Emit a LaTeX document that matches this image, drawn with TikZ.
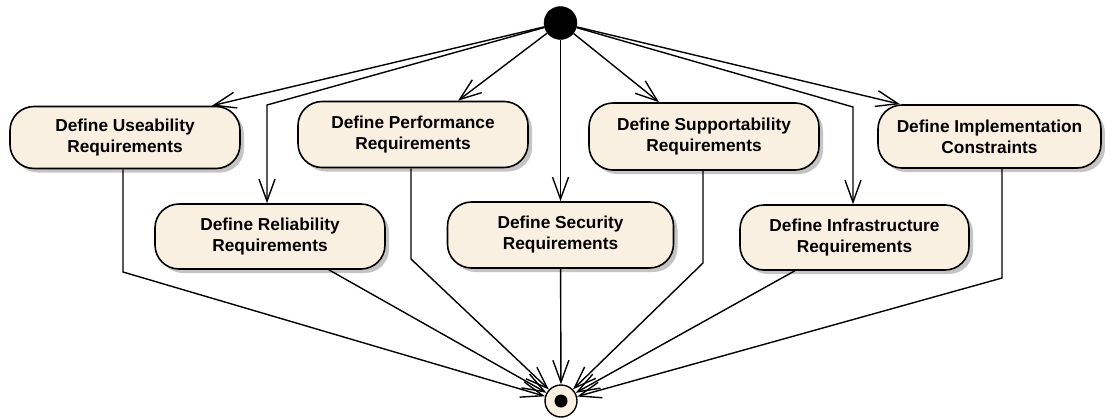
\documentclass[tikz,border=0pt]{standalone}
\usepackage{fontspec}
\setmainfont{Liberation Sans}
\usetikzlibrary{arrows.meta,shadows,calc}
\definecolor{actfill}{RGB}{250,240,226}
\definecolor{shadowgray}{RGB}{196,196,196}
\begin{document}
\begin{tikzpicture}[x=1pt,y=-1pt,
  action/.style={draw=black, line width=1.6pt, fill=actfill,
    rounded corners=24pt, inner sep=0pt, align=center,
    font=\fontsize{17.3}{21}\selectfont\bfseries,
    drop shadow={shadow xshift=4pt, shadow yshift=-4pt, fill=shadowgray, opacity=1}},
  flow/.style={line width=1.4pt, -{Straight Barb[length=22pt,width=16pt,line width=1.4pt]}},
  startnode/.style={circle, fill=black, draw=black, minimum size=33pt, inner sep=0pt},
  endnode/.style={circle, fill=actfill, draw=black, line width=1.4pt, minimum size=32pt, inner sep=0pt}
]
\useasboundingbox (0,0) rectangle (1105,418);

% initial and final states
\node[startnode] (I) at (560.5,23) {};
\node[endnode] (F) at (561,401) {};
\fill[black] (F.center) circle (6.5pt);

% activities, upper row
\node[action, minimum width=230pt, minimum height=62pt] (use) at (125,137.5) {Define Useability\\Requirements};
\node[action, minimum width=230pt, minimum height=66pt] (perf) at (413,134.5) {Define Performance\\Requirements};
\node[action, minimum width=230pt, minimum height=67pt] (sup) at (704,136.5) {Define Supportability\\Requirements};
\node[action, minimum width=223pt, minimum height=63pt] (imp) at (989.5,136.5) {Define Implementation\\Constraints};

% activities, lower row
\node[action, minimum width=230pt, minimum height=65pt] (rel) at (270,236.5) {Define Reliability\\Requirements};
\node[action, minimum width=226pt, minimum height=66pt] (sec) at (560.5,235) {Define Security\\Requirements};
\node[action, minimum width=229pt, minimum height=65pt] (inf) at (854.5,237.5) {Define Infrastructure\\Requirements};

% bend points of the routed flows
\coordinate (relbend) at (267,105);
\coordinate (infbend) at (853,107);
\coordinate (usebend) at (123,272);
\coordinate (perfbend) at (411,259);
\coordinate (supbend) at (703,263);
\coordinate (impbend) at (1002,278);

% flows from the initial state
\draw[flow] (I) -- ([xshift=87pt]use.north);
\draw[flow] (I) -- (relbend) -- ([xshift=-3pt]rel.north);
\draw[flow] (I) -- ([xshift=45pt]perf.north);
\draw[flow] (I) -- (sec.north);
\draw[flow] (I) -- ([xshift=-45pt]sup.north);
\draw[flow] (I) -- (infbend) -- ([xshift=-1.5pt]inf.north);
\draw[flow] (I) -- ([xshift=-89.5pt]imp.north);

% flows into the final state
\draw[flow] ([xshift=-2pt]use.south) -- (usebend) -- (F);
\draw[flow] ([xshift=-2pt]perf.south) -- (perfbend) -- (F);
\draw[flow] (rel) -- (F);
\draw[flow] (sec) -- (F);
\draw[flow] ([xshift=-1pt]sup.south) -- (supbend) -- (F);
\draw[flow] (inf) -- (F);
\draw[flow] ([xshift=12.5pt]imp.south) -- (impbend) -- (F);
\end{tikzpicture}
\end{document}
